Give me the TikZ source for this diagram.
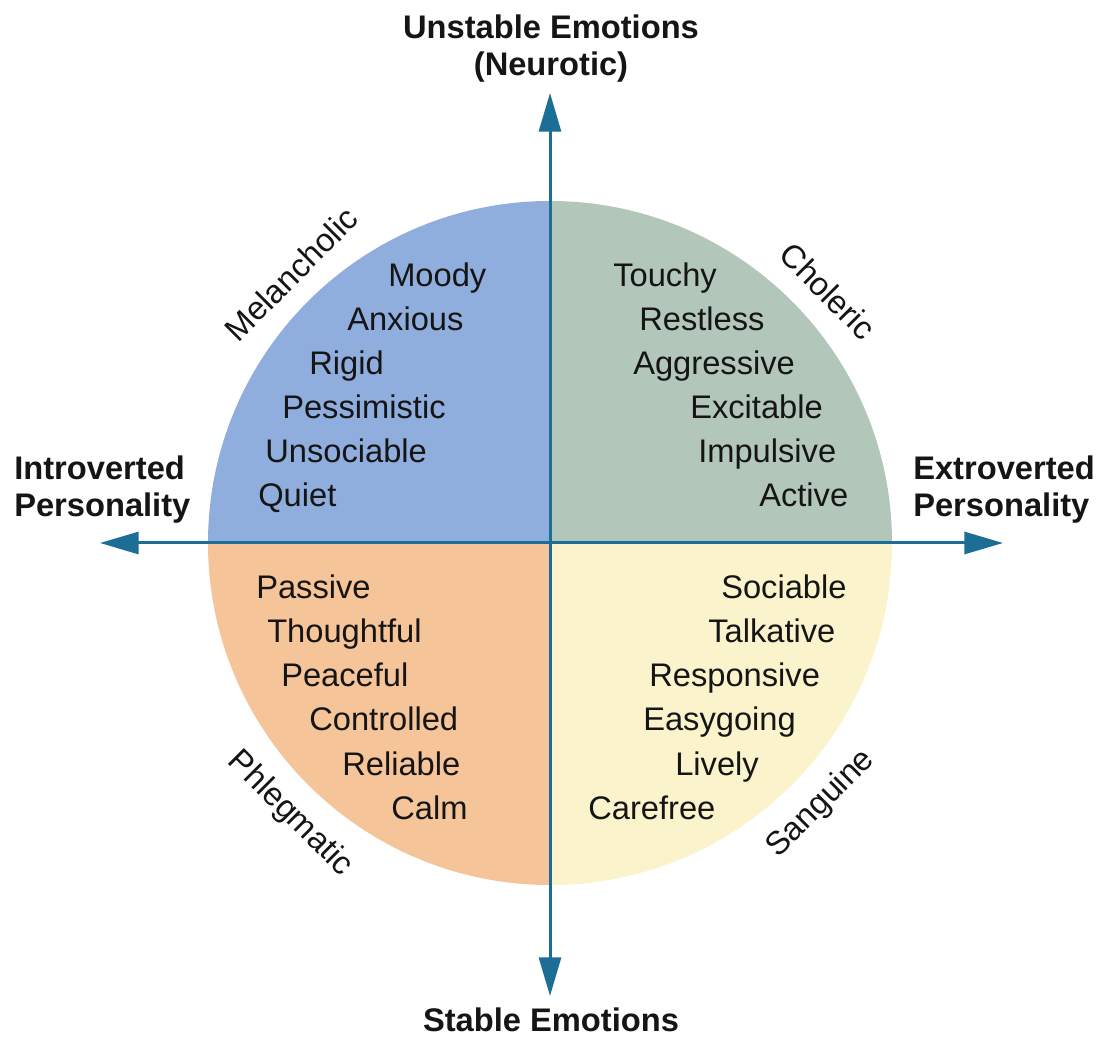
\documentclass[tikz,border=0pt]{standalone}
\usepackage{fontspec}
\setmainfont{Liberation Sans}
\usetikzlibrary{arrows.meta}
\definecolor{qblue}{HTML}{8FAEDD}
\definecolor{qgreen}{HTML}{B2C6BA}
\definecolor{qorange}{HTML}{F5C498}
\definecolor{qyellow}{HTML}{FAF3CC}
\definecolor{axiscol}{HTML}{1C6E97}
\definecolor{txt}{HTML}{151515}
\tikzset{
  word/.style={anchor=base west, inner sep=0pt, text=txt, font=\fontsize{24.5}{28}\selectfont},
  temper/.style={anchor=center, inner sep=0pt, text=txt, font=\fontsize{24.5}{28}\selectfont},
  axislabel/.style={inner sep=0pt, text=txt, font=\bfseries\fontsize{24.5}{27.5}\selectfont},
  axisline/.style={draw=axiscol, line width=2.25pt,
    {Triangle[length=29pt,width=16.5pt]}-{Triangle[length=29pt,width=16.5pt]}}
}
\begin{document}
\begin{tikzpicture}[x=0.75pt,y=-0.75pt]
\useasboundingbox (0,0) rectangle (1101,1037);
\fill[white] (0,0) rectangle (1101,1037);
\coordinate (c) at (550,543);
% quadrants
\fill[qblue]   (c) -- ++(180:342) arc (180:270:342) -- cycle;
\fill[qgreen]  (c) -- ++(270:342) arc (270:360:342) -- cycle;
\fill[qyellow] (c) -- ++(0:342) arc (0:90:342) -- cycle;
\fill[qorange] (c) -- ++(90:342) arc (90:180:342) -- cycle;
% axes
\coordinate (topTip) at (550,93);
\coordinate (botTip) at (550,996);
\coordinate (leftTip) at (100,543);
\coordinate (rightTip) at (1003,543);
\draw[axisline] (botTip) -- (topTip);
\draw[axisline] (leftTip) -- (rightTip);
% axis labels
\node[axislabel, anchor=north, align=center] (unstable) at (551,15) {Unstable Emotions\\(Neurotic)};
\node[axislabel, anchor=base] (stable) at (551,1031) {Stable Emotions};
\node[axislabel, anchor=north west, align=left] (intro) at (14,456) {Introverted\\Personality};
\node[axislabel, anchor=north west, align=left] (extro) at (913,456) {Extroverted\\Personality};
% temperament labels
\node[temper, rotate=45] (melan) at (291,274) {Melancholic};
\node[temper, rotate=-45] (chol) at (828,291) {Choleric};
\node[temper, rotate=-45] (phleg) at (290,814) {Phlegmatic};
\node[temper, rotate=45] (sang) at (821,804) {Sanguine};
% melancholic words
\node[word] (moody) at (388,287) {Moody};
\node[word] (anxious) at (347,331) {Anxious};
\node[word] (rigid) at (309,375) {Rigid};
\node[word] (pess) at (282,419) {Pessimistic};
\node[word] (unsoc) at (265,463) {Unsociable};
\node[word] (quiet) at (258,507) {Quiet};
% choleric words
\node[word] (touchy) at (613,287) {Touchy};
\node[word] (restless) at (639,331) {Restless};
\node[word] (aggr) at (633,375) {Aggressive};
\node[word] (excit) at (690,419) {Excitable};
\node[word] (impul) at (698,463) {Impulsive};
\node[word] (active) at (759,507) {Active};
% phlegmatic words
\node[word] (passive) at (256,599) {Passive};
\node[word] (thought) at (267,643) {Thoughtful};
\node[word] (peace) at (281,687) {Peaceful};
\node[word] (contr) at (309,731) {Controlled};
\node[word] (reliab) at (342,775) {Reliable};
\node[word] (calm) at (391,819) {Calm};
% sanguine words
\node[word] (sociab) at (721,599) {Sociable};
\node[word] (talk) at (708,643) {Talkative};
\node[word] (resp) at (649,687) {Responsive};
\node[word] (easy) at (643,731) {Easygoing};
\node[word] (lively) at (675,775) {Lively};
\node[word] (carefree) at (588,819) {Carefree};
\end{tikzpicture}
\end{document}
